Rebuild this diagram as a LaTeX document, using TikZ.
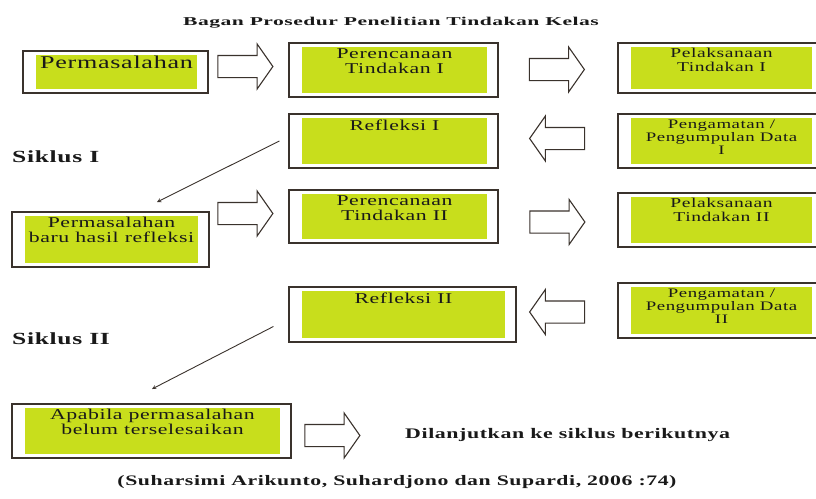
\documentclass[tikz,border=0pt]{standalone}
\usepackage{fontspec}
\setmainfont{Liberation Serif}
\newfontfamily\hurufkotak[FakeStretch=1.45,LetterSpace=4]{Liberation Serif}
\newfontfamily\hurufjudul[FakeStretch=1.5,LetterSpace=4]{Liberation Serif}
\newfontfamily\hurufatas[FakeStretch=1.8,LetterSpace=4]{Liberation Serif}
\usetikzlibrary{shapes.arrows}
\definecolor{hijau}{RGB}{200,222,28}
\definecolor{garis}{RGB}{58,50,44}

\begin{document}
\begin{tikzpicture}[x=1pt,y=-1pt,>=stealth,
  bingkai/.style={draw=garis,line width=1.2pt,inner sep=0pt},
  isi/.style={fill=hijau,inner sep=0pt},
  teks/.style={align=center,inner sep=0pt,text=black!90},
  panah/.style={single arrow,draw=garis,line width=1.1pt,fill=white,minimum height=55pt,
    inner xsep=0pt,inner ysep=10.5pt,single arrow head extend=11.5pt,single arrow tip angle=110},
  label/.style={font=\hurufjudul\bfseries\fontsize{15}{15}\selectfont,anchor=west,inner sep=0pt,text=black!90}]
\useasboundingbox (0,0) rectangle (816,498);
\foreach \n/\xa/\ya/\xb/\yb/\uk/\txt in {
    perm1/23/51/208/93/18/{Permasalahan},
    ren1/289/43/498/97/15/{Perencanaan\\Tindakan I},
    pel1/618/43/823/93/13.5/{Pelaksanaan\\Tindakan I},
    ref1/289/114/498/168/15/{Refleksi I},
    pen1/618/114/823/168/13/{Pengamatan /\\Pengumpulan Data\\I},
    perm2/12/212/209/267/15/{Permasalahan\\baru hasil refleksi},
    ren2/289/190/498/243/15/{Perencanaan\\Tindakan II},
    pel2/618/193/823/247/13.5/{Pelaksanaan\\Tindakan II},
    ref2/289/287/516/342/15/{Refleksi II},
    pen2/618/283/823/338/13/{Pengamatan /\\Pengumpulan Data\\II},
    apa/12/404/291/458/15/{Apabila permasalahan\\belum terselesaikan}}{
  \node[bingkai,minimum width={(\xb-\xa)*1pt},minimum height={(\yb-\ya)*1pt}] (\n) at ({(\xa+\xb)/2},{(\ya+\yb)/2}) {};
  \node[isi,minimum width={(\xb-\xa-24)*1pt},minimum height={(\yb-\ya-8)*1pt}] (\n-isi) at ([xshift=1pt]\n.center) {};
  \node[teks,font={\hurufkotak\fontsize{\uk}{\uk}\selectfont},anchor=north] (\n-teks) at ([yshift=-1.5pt]\n-isi.north) {\txt};
}
\node[panah] (a1) at (241.5,66.5) {};
\node[panah] (a2) at (553,69.5) {};
\node[panah,shape border rotate=180] (a3) at (561,138.5) {};
\node[panah] (a4) at (241.5,213.5) {};
\node[panah] (a5) at (553.5,222) {};
\node[panah,shape border rotate=180] (a6) at (561,312) {};
\node[panah] (a7) at (328.5,435.5) {};

\coordinate (u1) at (157,202);
\coordinate (u2) at (152,389);
\draw[->,garis,line width=0.9pt] ([xshift=-9pt]ref1.west) -- (u1);
\draw[->,garis,line width=0.9pt] ([shift={(-15,12)}]ref2.west) -- (u2);

\node[label,anchor=center,font=\hurufatas\bfseries\fontsize{12}{12}\selectfont] (judul) at (391,23) {Bagan Prosedur Penelitian Tindakan Kelas};
\node[label,font=\hurufjudul\bfseries\fontsize{17}{17}\selectfont] (siklus1) at (12,157) {Siklus I};
\node[label,font=\hurufjudul\bfseries\fontsize{17}{17}\selectfont] (siklus2) at (12,339) {Siklus II};
\node[label,font=\hurufjudul\bfseries\fontsize{14.6}{15}\selectfont] (lanjut) at (405,435) {Dilanjutkan ke siklus berikutnya};
\node[label,anchor=center,font=\hurufjudul\bfseries\fontsize{14.5}{15}\selectfont] (sumber) at (397,482) {(Suharsimi Arikunto, Suhardjono dan Supardi, 2006 :74)};
\end{tikzpicture}
\end{document}
